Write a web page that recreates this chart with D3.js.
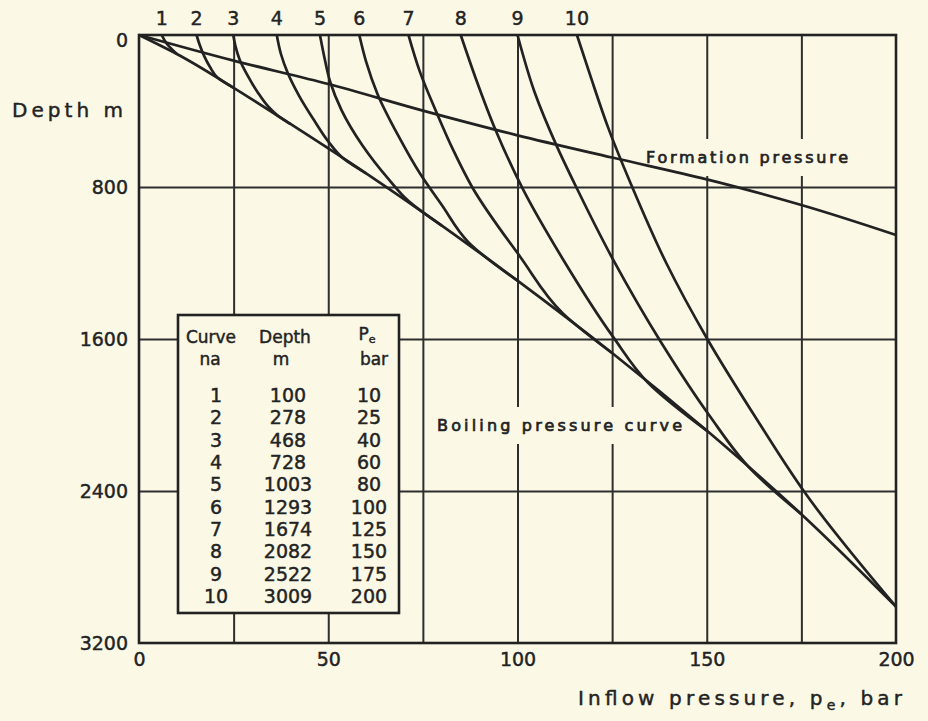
<!DOCTYPE html>
<meta charset="utf-8">
<style>
body { margin: 0; background: #fbf8e6; }
svg { display: block; background: #fbf8e6; }
text { font-family: "DejaVu Sans", sans-serif; fill: #232323; stroke: #232323; stroke-width: 0.45px; }
.grid line { stroke: #2e2e2e; stroke-width: 2px; }
.curve { fill: none; stroke: #222; stroke-width: 2.7px; stroke-linejoin: round; }
.frame { fill: none; stroke: #222; stroke-width: 2.6px; }
</style>
<body>
<svg width="928" height="721"></svg>
<script src="https://d3js.org/d3.v7.min.js"></script>
<script>
// table in the box
var curveNo   = [1, 2, 3, 4, 5, 6, 7, 8, 9, 10];
var wellDepth = [100, 278, 468, 728, 1003, 1293, 1674, 2082, 2522, 3009];
var inflowP   = [10, 25, 40, 60, 80, 100, 125, 150, 175, 200];

// axes
var pTicks = [0, 50, 100, 150, 200];
var pGrid = [25, 50, 75, 100, 125, 150, 175];
var depthTicks = [0, 800, 1600, 2400, 3200];
var depthGrid = [800, 1600, 2400];

// formation pressure line (bar, m)
var formP = [0, 25, 50, 75, 100, 125, 150, 175, 200];
var formD = [0, 135, 258, 398, 528, 645, 760, 895, 1053];

// flowing pressure curves 1..10 (bar, m)
var curveP = [
  [6, 7.3, 10],
  [15.2, 16, 17.2, 18.8, 20.8, 25],
  [24.9, 25.5, 26.6, 28.6, 31.3, 34.3, 37, 40],
  [36.4, 37.5, 39.3, 42.3, 46.3, 50, 54, 60],
  [47.8, 49, 50.5, 53.5, 59, 66, 71, 80],
  [58.2, 60, 63, 68.5, 74.2, 80, 87, 100],
  [71.2, 74.2, 78.7, 83, 88, 100.7, 112, 125],
  [85, 89, 94.2, 101.5, 112, 125.3, 134.5, 150],
  [100, 104.5, 110.5, 115.8, 125.3, 138, 150.6, 161.8, 175],
  [115.7, 119.5, 124, 130.3, 139.3, 150.3, 162.5, 176, 200]
];
var curveD = [
  [0, 45, 100],
  [0, 50, 110, 170, 225, 278],
  [0, 60, 130, 210, 300, 380, 430, 468],
  [0, 100, 200, 320, 450, 560, 650, 728],
  [0, 120, 246, 395, 580, 760, 870, 1003],
  [0, 140, 310, 530, 728, 895, 1090, 1293],
  [0, 193, 412, 605, 800, 1167, 1465, 1674],
  [0, 230, 500, 814, 1180, 1590, 1830, 2082],
  [0, 300, 590, 812, 1184, 1620, 2000, 2289, 2522],
  [0, 230, 490, 800, 1200, 1605, 2000, 2411, 3009]
];

var svg = d3.select("svg");
var x = d3.scaleLinear().domain([0, 200]).range([139, 896]);
var y = d3.scaleLinear().domain([0, 3200]).range([35, 643]);
var paper = "#fbf8e6";

var gGrid = svg.append("g"),
    gMask = svg.append("g"),
    gLines = svg.append("g"),
    gText = svg.append("g");

// grid lines
gGrid.append("g").attr("class", "grid")
    .attr("transform", "translate(0," + y(3200) + ")")
    .call(d3.axisBottom(x).tickValues(pGrid).tickSize(-(y(3200) - y(0))).tickFormat(""))
    .call(function(g) { g.select(".domain").remove(); });
gGrid.append("g").attr("class", "grid")
    .attr("transform", "translate(" + x(0) + ",0)")
    .call(d3.axisLeft(y).tickValues(depthGrid).tickSize(-(x(200) - x(0))).tickFormat(""))
    .call(function(g) { g.select(".domain").remove(); });

// tick labels
var ax = gText.append("g")
    .attr("transform", "translate(0," + y(3200) + ")")
    .call(d3.axisBottom(x).tickValues(pTicks).tickSize(0).tickPadding(10).tickFormat(d3.format("d")));
var ay = gText.append("g")
    .attr("transform", "translate(" + x(0) + ",0)")
    .call(d3.axisLeft(y).tickValues(depthTicks).tickSize(0).tickPadding(11).tickFormat(d3.format("d")));
[ax, ay].forEach(function(a) {
  a.select(".domain").remove();
  a.attr("font-size", 19).attr("font-family", "DejaVu Sans, sans-serif");
  a.selectAll("text").style("fill", "#232323");
});
ay.selectAll(".tick").filter(function(d) { return d === 0; }).select("text").attr("dy", "0.6em");

// lines
var line = d3.line()
    .x(function(d) { return x(d[0]); })
    .y(function(d) { return y(d[1]); })
    .curve(d3.curveMonotoneY);

var boiling = [[0, 0]].concat(inflowP.map(function(p, i) { return [p, wellDepth[i]]; }));
var formation = formP.map(function(p, i) { return [p, formD[i]]; });
var flows = curveP.map(function(ps, i) {
  return ps.map(function(p, j) { return [p, curveD[i][j]]; });
});

gLines.append("path").attr("class", "curve").attr("d", line(boiling));
gLines.append("path").attr("class", "curve").attr("d", line(formation));
gLines.selectAll(".flow").data(flows).enter().append("path")
    .attr("class", "curve flow")
    .attr("d", line);

gLines.append("rect").attr("class", "frame")
    .attr("x", x(0)).attr("y", y(0))
    .attr("width", x(200) - x(0)).attr("height", y(3200) - y(0));

// curve numbers on top
gText.selectAll(".num").data(curveNo).enter().append("text")
    .attr("x", function(d, i) { return x(curveP[i][0]); })
    .attr("y", 25)
    .attr("text-anchor", "middle")
    .attr("font-size", 19)
    .text(function(d) { return d; });

// titles
gText.append("text").attr("x", 12).attr("y", 117).attr("font-size", 20)
    .attr("textLength", 111).attr("lengthAdjust", "spacing").text("Depth m");

var xt = gText.append("text").attr("x", 578).attr("y", 705).attr("font-size", 20)
    .attr("textLength", 324).attr("lengthAdjust", "spacing");
xt.append("tspan").text("Inflow pressure, p");
xt.append("tspan").attr("font-size", 14).attr("dy", 5).text("e");
xt.append("tspan").attr("dy", -5).text(", bar");

// in-plot labels with gaps in the grid
function label(txt, x0, y0, len) {
  var t = gText.append("text").attr("x", x0).attr("y", y0).attr("font-size", 16)
      .style("stroke-width", "0.7px")
      .attr("textLength", len).attr("lengthAdjust", "spacing").text(txt);
  var b = t.node().getBBox();
  gMask.append("rect").attr("x", b.x - 6).attr("y", b.y - 9)
      .attr("width", b.width + 12).attr("height", b.height + 18)
      .attr("fill", paper);
}
label("Formation pressure", 646, 163, 202);
label("Boiling pressure curve", 437, 431, 245);

// table box
gMask.append("rect").attr("x", 178).attr("y", 315).attr("width", 221).attr("height", 298)
    .attr("fill", paper).attr("stroke", "#222").attr("stroke-width", 2.6);

var col = { no: 216, depth: 288, pe: 369 };
var hd = gText.append("g").attr("font-size", 17).attr("text-anchor", "middle");
hd.append("text").attr("x", 211).attr("y", 343).text("Curve");
hd.append("text").attr("x", 285).attr("y", 343).text("Depth");
var pe = hd.append("text").attr("x", 367).attr("y", 340);
pe.append("tspan").text("P");
pe.append("tspan").attr("font-size", 11).attr("dy", 3).text("e");
hd.append("text").attr("x", 210).attr("y", 365).text("na");
hd.append("text").attr("x", 281).attr("y", 365).text("m");
hd.append("text").attr("x", 374).attr("y", 365).text("bar");

var row = d3.scaleLinear().domain([1, 10]).range([402, 603]);
var rows = gText.append("g").attr("font-size", 19).attr("text-anchor", "middle")
  .selectAll("g").data(curveNo).enter().append("g");
rows.append("text").attr("x", col.no).attr("y", function(d) { return row(d); })
    .text(function(d) { return d; });
rows.append("text").attr("x", col.depth).attr("y", function(d) { return row(d); })
    .text(function(d, i) { return wellDepth[i]; });
rows.append("text").attr("x", col.pe).attr("y", function(d) { return row(d); })
    .text(function(d, i) { return inflowP[i]; });
</script>
